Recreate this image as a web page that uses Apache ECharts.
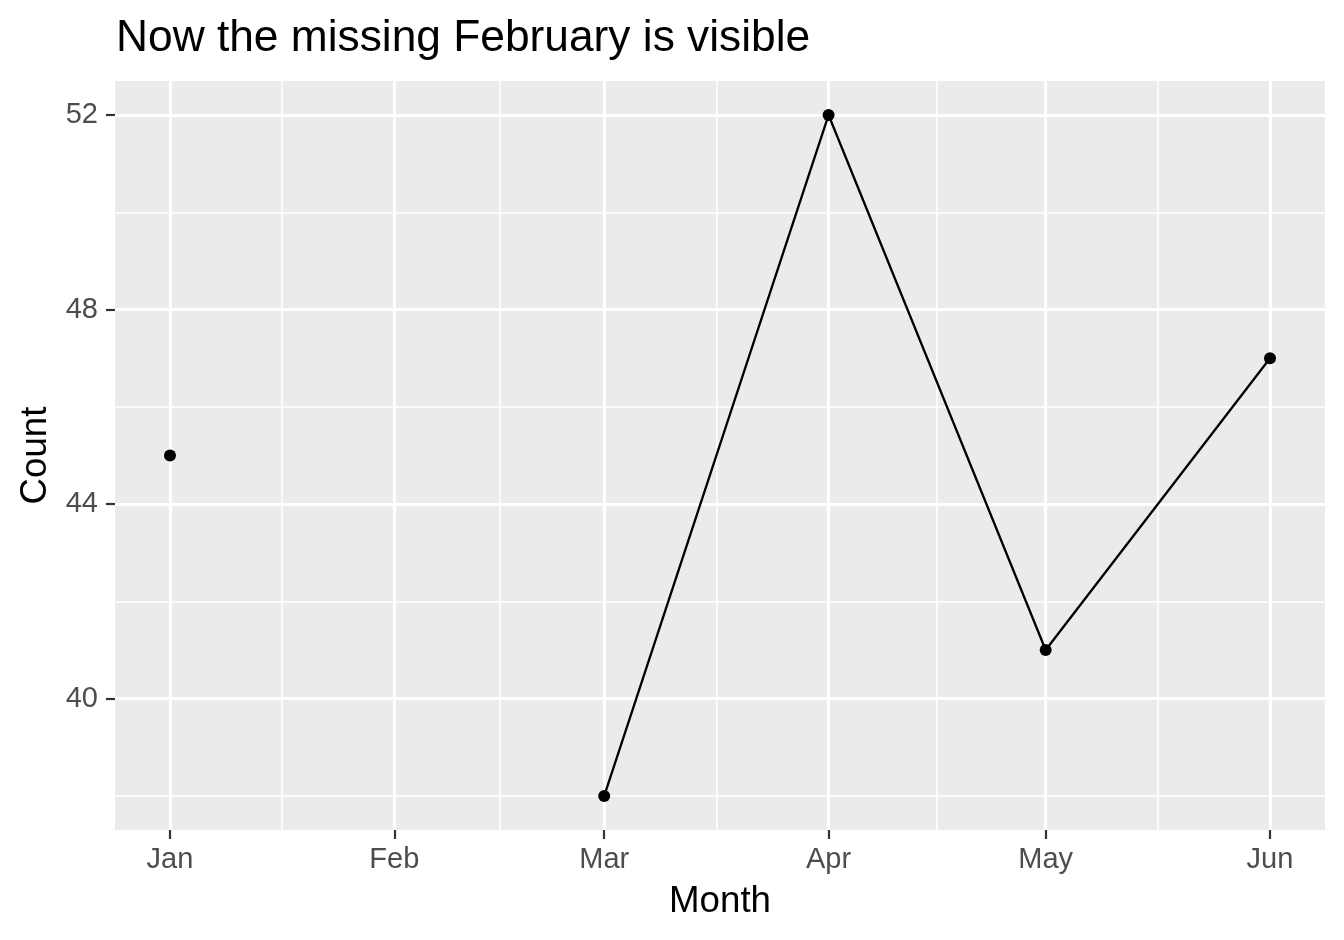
<!DOCTYPE html>
<html>
<head>
<meta charset="utf-8">
<script src="https://cdn.jsdelivr.net/npm/echarts@6/dist/echarts.min.js"></script>
<style>
  html, body { margin: 0; padding: 0; background: #fff; }
  #chart { width: 1344px; height: 940px; }
</style>
</head>
<body>
<div id="chart"></div>
<script>
// data: monthly counts, February is missing (NA)
const months = ['Jan', 'Feb', 'Mar', 'Apr', 'May', 'Jun'];
const dayOffset = [0, 31, 60, 91, 121, 152]; // days since 1 Jan 2024
const counts = [45, null, 38, 52, 41, 47];
const yTicks = [40, 44, 48, 52];
const yMinorTicks = [38, 42, 46, 50];
const xMinorTicks = [15.5, 45.5, 75.5, 106, 136.5];

// ggplot style 5% expansion of the data range
const xSpan = dayOffset[dayOffset.length - 1] - dayOffset[0];
const xMin = dayOffset[0] - xSpan * 0.05;
const xMax = dayOffset[dayOffset.length - 1] + xSpan * 0.05;
const present = counts.filter(v => v != null);
const yLo = Math.min(...present), yHi = Math.max(...present);
const yMin = yLo - (yHi - yLo) * 0.05;
const yMax = yHi + (yHi - yLo) * 0.05;

const font = 'Liberation Sans, Arial, sans-serif';
const chart = echarts.init(document.getElementById('chart'));

const minorSplit = { show: true, lineStyle: { color: '#fff', width: 1.6 } };
const majorSplit = { show: true, lineStyle: { color: '#fff', width: 3.2 } };

chart.setOption({
  animation: false,
  title: {
    text: 'Now the missing February is visible',
    left: 111,
    top: 12,
    textStyle: { fontFamily: font, fontSize: 44.3, fontWeight: 'normal', color: '#000' }
  },
  grid: {
    left: 115, right: 19, top: 81, bottom: 110,
    show: true, backgroundColor: '#EBEBEB', borderWidth: 0
  },
  xAxis: [
    {
      type: 'value', min: xMin, max: xMax,
      name: 'Month', nameLocation: 'middle', nameGap: 53,
      nameTextStyle: { fontFamily: font, fontSize: 36.7, color: '#000' },
      axisLine: { show: false, onZero: false },
      axisTick: { show: true, length: 9, customValues: dayOffset, lineStyle: { color: '#333', width: 2.2 } },
      axisLabel: {
        show: true, margin: 15, customValues: dayOffset,
        fontFamily: font, fontSize: 29, color: '#4D4D4D',
        formatter: v => months[dayOffset.indexOf(v)] || ''
      },
      splitLine: majorSplit
    },
    {
      type: 'value', min: xMin, max: xMax, position: 'bottom',
      axisLine: { show: false, onZero: false },
      axisTick: { show: false, customValues: xMinorTicks },
      axisLabel: { show: false },
      splitLine: minorSplit
    }
  ],
  yAxis: [
    {
      type: 'value', min: yMin, max: yMax,
      name: 'Count', nameLocation: 'middle', nameGap: 61,
      nameTextStyle: { fontFamily: font, fontSize: 36.7, color: '#000' },
      axisLine: { show: false, onZero: false },
      axisTick: { show: true, length: 9, customValues: yTicks, lineStyle: { color: '#333', width: 2.2 } },
      axisLabel: {
        show: true, margin: 17, customValues: yTicks,
        fontFamily: font, fontSize: 29, color: '#4D4D4D'
      },
      splitLine: majorSplit
    },
    {
      type: 'value', min: yMin, max: yMax, position: 'left',
      axisLine: { show: false, onZero: false },
      axisTick: { show: false, customValues: yMinorTicks },
      axisLabel: { show: false },
      splitLine: minorSplit
    }
  ],
  series: [{
    type: 'line',
    xAxisIndex: 0, yAxisIndex: 0,
    data: dayOffset.map((d, i) => [d, counts[i] == null ? '-' : counts[i]]),
    connectNulls: false,
    symbol: 'circle', symbolSize: 12, showSymbol: true,
    itemStyle: { color: '#000' },
    lineStyle: { color: '#000', width: 2.3 },
    z: 10
  }]
});
</script>
</body>
</html>
